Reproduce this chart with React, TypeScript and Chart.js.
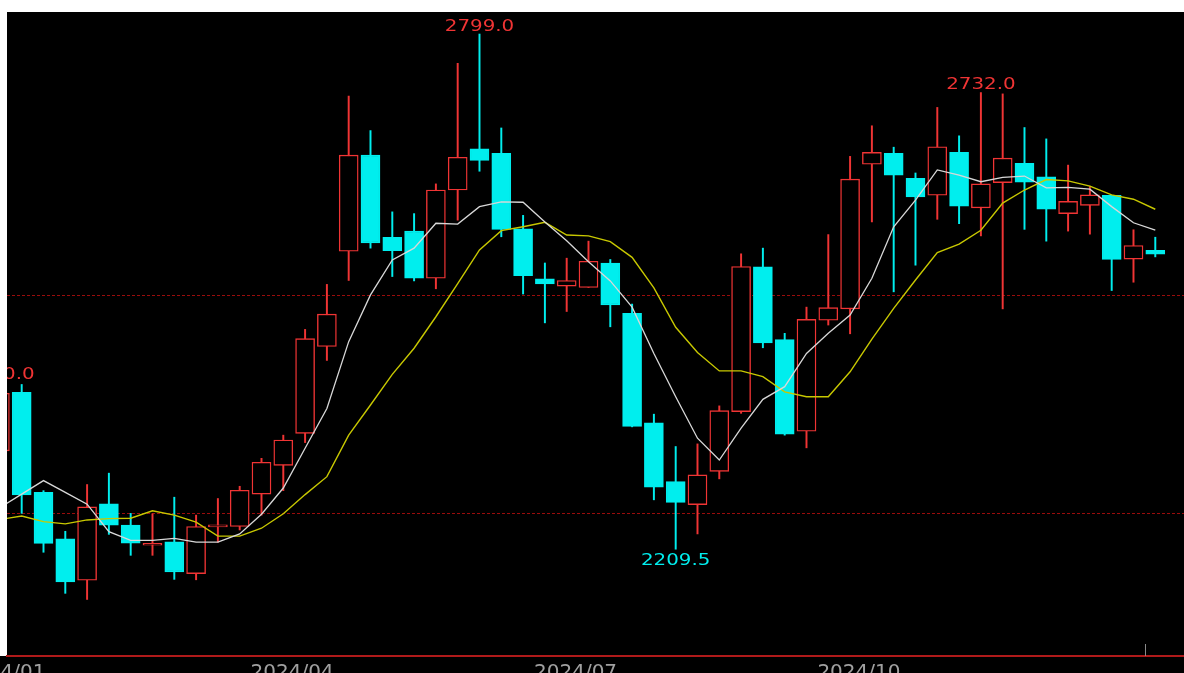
import React, { useEffect, useRef } from "react";
import { Chart, registerables } from "chart.js";

Chart.register(...registerables);

// Weekly candles; array index 0 is the partly hidden candle at the left edge.
const OPEN = [
  2322, 2389, 2274.5, 2221.5, 2174, 2261.5, 2237, 2214, 2218, 2181.5,
  2235, 2235.5, 2272.5, 2305.5, 2342, 2441.5, 2550.5, 2660.5, 2566.5, 2573.5,
  2519.5, 2620.5, 2667.5, 2662.5, 2576, 2519, 2510.5, 2509, 2537, 2479.5,
  2354, 2287, 2260.5, 2298.5, 2367, 2532.5, 2449.5, 2344.5, 2471.5, 2484.5,
  2650, 2662.5, 2634, 2614.5, 2663.5, 2600, 2629, 2651, 2635.5, 2593.5,
  2603, 2614.5, 2541.5, 2551.5,
];
const HIGH = [
  2400, 2398, 2276.5, 2230, 2283.5, 2296.5, 2250.5, 2250, 2269, 2248.5,
  2267.5, 2281.5, 2313.5, 2340, 2461, 2512.5, 2728, 2688.5, 2595.5, 2593.5,
  2627.5, 2765.5, 2799, 2691.5, 2591.5, 2537, 2542.5, 2562, 2541, 2490,
  2364, 2327, 2330, 2373.5, 2547.5, 2554, 2456.5, 2486.5, 2569.5, 2659,
  2694, 2669.5, 2640, 2715, 2682.5, 2732, 2730.5, 2692, 2679, 2649,
  2624.5, 2614.5, 2575, 2566.5,
];
const LOW = [
  2310, 2250.5, 2206, 2159, 2152, 2226.5, 2202.5, 2202.5, 2175, 2174.5,
  2217.5, 2231.5, 2248.5, 2276.5, 2331.5, 2425.5, 2517, 2554, 2521.5, 2516.5,
  2507.5, 2586, 2642, 2567, 2501.5, 2468.5, 2481.5, 2509, 2464, 2349.5,
  2266, 2209.5, 2227, 2290, 2365, 2440, 2340, 2325.5, 2466, 2456,
  2584, 2504, 2534.5, 2587, 2582, 2568, 2484.5, 2575.5, 2562, 2573.5,
  2570, 2505.5, 2515, 2544,
];
const CLOSE = [
  2388, 2271.5, 2216, 2172, 2258, 2237, 2216.5, 2216, 2183.5, 2235.5,
  2236, 2277, 2309, 2334.5, 2450.5, 2478.5, 2660.5, 2560, 2551, 2519.5,
  2620.5, 2658, 2654.5, 2575.5, 2522.5, 2513, 2517, 2539, 2489, 2350,
  2280.5, 2263, 2294.5, 2368, 2533, 2445.5, 2341, 2472.5, 2486, 2633,
  2663.5, 2637.5, 2612.5, 2670, 2602, 2627.5, 2657, 2629.5, 2598.5, 2607.5,
  2615, 2541, 2557, 2547,
];
// Moving averages
const MA_SHORT = [
  2257, 2272.5, 2288, 2274.5, 2261, 2229.5, 2219.5, 2219.5, 2222, 2217.5,
  2217.5, 2227, 2249.5, 2279.5, 2325, 2370.5, 2447, 2500.5, 2540.5, 2554,
  2582.5, 2581.5, 2601.5, 2607, 2606.5, 2584, 2562.5, 2538.5, 2516.5, 2486.5,
  2433.5, 2384, 2336.5, 2311.5, 2348, 2381, 2395.5, 2433.5, 2456.5, 2477.5,
  2519.5, 2578.5, 2609, 2643.5, 2637.5, 2630, 2635, 2636.5, 2623, 2623.5,
  2621.5, 2601.5, 2583, 2574.5,
];
const MA_LONG = [
  2243.5, 2247.5, 2241, 2238.5, 2243, 2244.5, 2245, 2253.5, 2248.5, 2240.5,
  2224.5, 2224.5, 2233.5, 2250, 2272, 2292.5, 2340, 2374.5, 2409.5, 2439.5,
  2475.5, 2513.5, 2552, 2574, 2578.5, 2583.5, 2569, 2568, 2561.5, 2543.5,
  2508.5, 2463.5, 2434.5, 2413.5, 2413.5, 2407, 2389.5, 2384, 2384, 2412.5,
  2450, 2485, 2517.5, 2549, 2558.5, 2574.5, 2605.5, 2620.5, 2632.5, 2631,
  2625, 2615, 2610, 2598.5,
];

const TICK_POS = [-1.72, 11.5, 24.5, 37.5];
const TICK_LABELS = ["2024/01", "2024/04", "2024/07", "2024/10"];
const GRID_LEVELS = [2250, 2500];

const MARK_INDEX = [0, 22, 31, 45];
const MARK_VALUE = [2400, 2799, 2209.5, 2732];
const MARK_TEXT = ["2400.0", "2799.0", "2209.5", "2732.0"];
const MARK_ABOVE = [true, true, false, true];
const CURSOR_X = 52.55;

const X_MIN = 0.326;
const X_MAX = 54.317;
const Y_MIN = 2087.3;
const Y_MAX = 2824.2;

const UP = "#f03434";
const DOWN = "#00eeee";
const GRID_RED = "#9a0c0c";
const AXIS_RED = "#b01a1a";

const isUp = (i: number) => CLOSE[i] >= OPEN[i];

const decorPlugin = {
  id: "decor",
  beforeDraw(chart: any) {
    const { ctx, width, height, chartArea } = chart;
    ctx.save();
    ctx.fillStyle = "#000";
    ctx.fillRect(0, 0, width, height);
    ctx.fillStyle = "#fff";
    ctx.fillRect(0, 0, chartArea.left, chartArea.bottom);
    ctx.restore();
  },
  afterDatasetsDraw(chart: any) {
    const { ctx, chartArea } = chart;
    const xs = chart.scales.x;
    const ys = chart.scales.y;
    ctx.save();
    ctx.beginPath();
    ctx.rect(chartArea.left, chartArea.top, chartArea.right - chartArea.left, chartArea.bottom - chartArea.top);
    ctx.clip();
    ctx.font = '16px "DejaVu Sans"';
    ctx.textAlign = "center";
    ctx.textBaseline = "alphabetic";
    MARK_INDEX.forEach((idx, k) => {
      const x = xs.getPixelForValue(idx);
      const y = ys.getPixelForValue(MARK_VALUE[k]);
      ctx.save();
      ctx.fillStyle = MARK_ABOVE[k] ? UP : DOWN;
      ctx.translate(x, MARK_ABOVE[k] ? y - 3.3 : y + 15.7);
      ctx.scale(1.24, 1);
      ctx.fillText(MARK_TEXT[k], 0, 0);
      ctx.restore();
    });
    const cx = Math.round(xs.getPixelForValue(CURSOR_X)) + 0.5;
    ctx.strokeStyle = "#8a8a8a";
    ctx.lineWidth = 1;
    ctx.beginPath();
    ctx.moveTo(cx, chartArea.bottom - 12);
    ctx.lineTo(cx, chartArea.bottom);
    ctx.stroke();
    ctx.restore();
  },
};

export default function App() {
  const ref = useRef<HTMLCanvasElement | null>(null);

  useEffect(() => {
    if (!ref.current) return;
    const chart = new Chart(ref.current, {
      type: "bar",
      data: {
        datasets: [
          {
            type: "line",
            data: MA_SHORT.map((v, i) => ({ x: i, y: v })),
            borderColor: "#d8d8d8",
            borderWidth: 1.3,
            pointRadius: 0,
            tension: 0,
            order: 0,
            clip: 0,
          } as any,
          {
            type: "line",
            data: MA_LONG.map((v, i) => ({ x: i, y: v })),
            borderColor: "#c8c800",
            borderWidth: 1.4,
            pointRadius: 0,
            tension: 0,
            order: 0,
            clip: 0,
          } as any,
          {
            type: "bar",
            data: OPEN.map((o, i) => ({ x: i, y: [o, CLOSE[i]] })),
            backgroundColor: (c: any) => (isUp(c.dataIndex) ? "#000" : DOWN),
            borderColor: (c: any) => (isUp(c.dataIndex) ? UP : DOWN),
            borderWidth: 1.4,
            borderSkipped: false,
            barThickness: 19,
            minBarLength: 2,
            grouped: false,
            order: 1,
            clip: 0,
          } as any,
          {
            type: "bar",
            data: LOW.map((l, i) => ({ x: i, y: [l, HIGH[i]] })),
            backgroundColor: (c: any) => (isUp(c.dataIndex) ? UP : DOWN),
            borderWidth: 0,
            barThickness: 1.3,
            grouped: false,
            order: 2,
            clip: 0,
          } as any,
        ],
      },
      options: {
        responsive: false,
        animation: false,
        events: [],
        layout: { padding: { left: 7, top: 0, right: 0, bottom: 0 } },
        plugins: { legend: { display: false }, tooltip: { enabled: false } },
        scales: {
          x: {
            type: "linear",
            min: X_MIN,
            max: X_MAX,
            offset: false,
            grid: { display: false, drawTicks: false },
            border: { display: true, color: AXIS_RED, width: 2 },
            ticks: {
              autoSkip: false,
              maxRotation: 0,
              minRotation: 0,
              align: "start",
              padding: 4.5,
              color: "#a0a0a0",
              font: { family: "DejaVu Sans", size: 20 },
              callback: (v: any) => {
                const k = TICK_POS.indexOf(Number(v));
                return k >= 0 ? TICK_LABELS[k] : "";
              },
            },
            afterBuildTicks: (s: any) => {
              s.ticks = TICK_POS.map((v) => ({ value: v }));
            },
            afterFit: (s: any) => {
              s.height = 17;
              s.paddingLeft = 0;
              s.paddingRight = 0;
            },
          },
          y: {
            type: "linear",
            position: "left",
            min: Y_MIN,
            max: Y_MAX,
            ticks: { display: false },
            grid: { display: true, drawTicks: false, color: GRID_RED, lineWidth: 1 },
            border: { display: false, dash: [3, 2] },
            afterBuildTicks: (s: any) => {
              s.ticks = GRID_LEVELS.map((v) => ({ value: v }));
            },
            afterFit: (s: any) => {
              s.width = 0;
              s.paddingTop = 0;
              s.paddingBottom = 0;
            },
          },
        },
      } as any,
      plugins: [decorPlugin],
    });
    return () => chart.destroy();
  }, []);

  return (
    <div style={{ position: "fixed", left: 0, top: 12, width: 1184, height: 661 }}>
      <canvas ref={ref} width={1184} height={661} style={{ display: "block" }} />
    </div>
  );
}
